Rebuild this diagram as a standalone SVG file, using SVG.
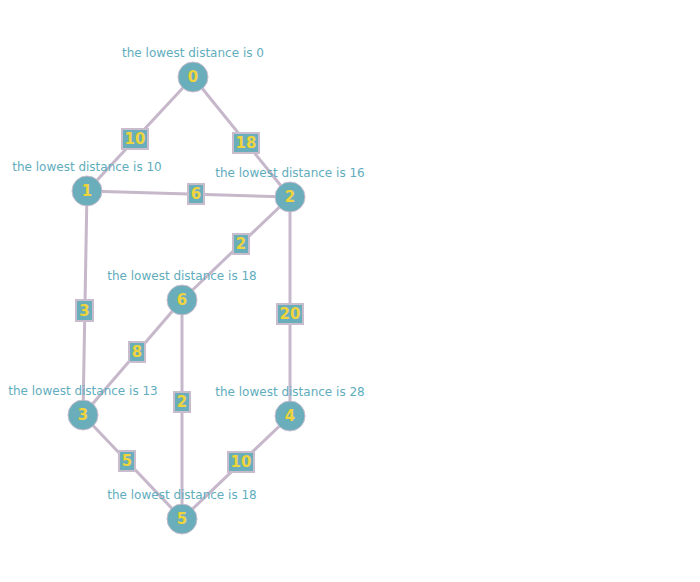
<svg xmlns="http://www.w3.org/2000/svg" width="700" height="582" viewBox="0 0 700 582">
<style>
.edge{stroke:#c6b7ca;stroke-width:3;fill:none}
.node circle{fill:#69aeba;stroke:#c9bccd;stroke-width:1}
.num{font-family:"DejaVu Sans",sans-serif;font-weight:bold;font-size:15px;fill:#f0d43c;text-anchor:middle;dominant-baseline:central}
.nlab{font-family:"DejaVu Sans",sans-serif;font-size:12px;fill:#5fadbd;text-anchor:middle}
.box{fill:#69aeba;stroke:#c9bccd;stroke-width:2}
</style>
<rect width="700" height="582" fill="#ffffff"/>
<g id="connectors">
<line class="edge" x1="193" y1="77" x2="87" y2="191"/>
<line class="edge" x1="193" y1="77" x2="290" y2="197"/>
<line class="edge" x1="87" y1="191" x2="290" y2="197"/>
<line class="edge" x1="290" y1="197" x2="182" y2="300"/>
<line class="edge" x1="87" y1="191" x2="83" y2="415"/>
<line class="edge" x1="290" y1="197" x2="290" y2="416"/>
<line class="edge" x1="182" y1="300" x2="83" y2="415"/>
<line class="edge" x1="182" y1="300" x2="182" y2="519"/>
<line class="edge" x1="83" y1="415" x2="182" y2="519"/>
<line class="edge" x1="290" y1="416" x2="182" y2="519"/>
<g id="edge-labels">
<rect class="box" x="122" y="129" width="26" height="20"/><text class="num" x="135" y="139">10</text>
<rect class="box" x="233" y="133" width="26" height="20"/><text class="num" x="246" y="143">18</text>
<rect class="box" x="188" y="184" width="16" height="20"/><text class="num" x="196" y="194">6</text>
<rect class="box" x="233" y="234" width="16" height="20"/><text class="num" x="241" y="244">2</text>
<rect class="box" x="76" y="300" width="17" height="21"/><text class="num" x="84.5" y="310.5">3</text>
<rect class="box" x="277" y="304" width="26" height="20"/><text class="num" x="290" y="314">20</text>
<rect class="box" x="129" y="342" width="16" height="20"/><text class="num" x="137" y="352">8</text>
<rect class="box" x="174" y="392" width="16" height="20"/><text class="num" x="182" y="402">2</text>
<rect class="box" x="119" y="451" width="16" height="20"/><text class="num" x="127" y="461">5</text>
<rect class="box" x="228" y="452" width="26" height="20"/><text class="num" x="241" y="462">10</text>
</g>
</g>
<g id="node-0" class="node"><circle cx="193" cy="77" r="15"/><text class="num" x="193" y="77">0</text><text class="nlab" x="193" y="57">the lowest distance is 0</text></g>
<g id="node-1" class="node"><circle cx="87" cy="191" r="15"/><text class="num" x="87" y="191">1</text><text class="nlab" x="87" y="171">the lowest distance is 10</text></g>
<g id="node-2" class="node"><circle cx="290" cy="197" r="15"/><text class="num" x="290" y="197">2</text><text class="nlab" x="290" y="177">the lowest distance is 16</text></g>
<g id="node-6" class="node"><circle cx="182" cy="300" r="15"/><text class="num" x="182" y="300">6</text><text class="nlab" x="182" y="280">the lowest distance is 18</text></g>
<g id="node-3" class="node"><circle cx="83" cy="415" r="15"/><text class="num" x="83" y="415">3</text><text class="nlab" x="83" y="395">the lowest distance is 13</text></g>
<g id="node-4" class="node"><circle cx="290" cy="416" r="15"/><text class="num" x="290" y="416">4</text><text class="nlab" x="290" y="396">the lowest distance is 28</text></g>
<g id="node-5" class="node"><circle cx="182" cy="519" r="15"/><text class="num" x="182" y="519">5</text><text class="nlab" x="182" y="499">the lowest distance is 18</text></g>
</svg>
